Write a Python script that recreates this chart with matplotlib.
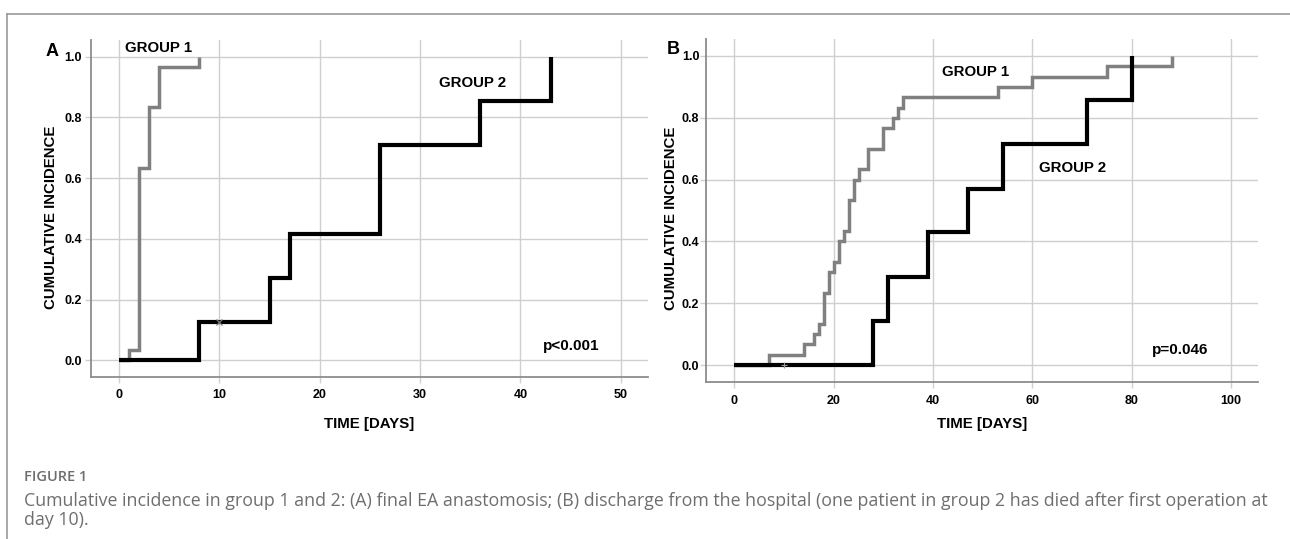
import matplotlib
matplotlib.use("Agg")
import matplotlib.pyplot as plt
from matplotlib.lines import Line2D

plt.rcParams['font.family'] = ['Liberation Sans', 'DejaVu Sans']

# Panel A: final EA anastomosis
a_g1_days = [0, 1, 2, 3, 4, 8]
a_g1_inc = [0.0, 0.033, 0.633, 0.833, 0.967, 1.0]
a_g2_days = [0, 8, 15, 17, 26, 36, 43]
a_g2_inc = [0.0, 0.125, 0.271, 0.417, 0.708, 0.854, 1.0]
a_censor_day, a_censor_inc = 10, 0.125

# Panel B: discharge from the hospital
b_g1_days = [0, 7, 14, 16, 17, 18, 19, 20, 21, 22, 23, 24, 25, 27, 30, 32, 33, 34, 53, 60, 75, 88]
b_g1_inc = [0.0, 0.033, 0.067, 0.100, 0.133, 0.233, 0.300, 0.333, 0.400, 0.433, 0.533,
            0.600, 0.633, 0.700, 0.767, 0.800, 0.833, 0.867, 0.900, 0.933, 0.967, 1.0]
b_g2_days = [0, 28, 31, 39, 47, 54, 71, 80]
b_g2_inc = [0.0, 0.143, 0.286, 0.429, 0.571, 0.714, 0.857, 1.0]
b_censor_day, b_censor_inc = 10, 0.0

yticks = [0.0, 0.2, 0.4, 0.6, 0.8, 1.0]
a_xticks = [0, 10, 20, 30, 40, 50]
b_xticks = [0, 20, 40, 60, 80, 100]

GREY = "#808080"
GRID = "#cfcfcf"
SPINE = "#8c8c8c"

fig = plt.figure(figsize=(12.9, 5.39), dpi=100)
W, H = 1290, 539


def px_axes(x0, x1, ytop, ybot):
    return fig.add_axes([x0 / W, 1 - ybot / H, (x1 - x0) / W, (ybot - ytop) / H])


def style(ax, xlim, xticks, ypad):
    ax.set_xlim(*xlim)
    ax.set_ylim(-0.055, 1.055)
    ax.set_xticks(xticks)
    ax.set_yticks(yticks)
    ax.set_yticklabels([f"{v:.1f}" for v in yticks])
    ax.grid(True, color=GRID, lw=1.0)
    ax.set_axisbelow(True)
    for s in ["top", "right"]:
        ax.spines[s].set_visible(False)
    for s in ["left", "bottom"]:
        ax.spines[s].set_color(SPINE)
        ax.spines[s].set_linewidth(1.3)
    ax.tick_params(axis="both", direction="out", length=4, width=1.0, color=GRID,
                   labelsize=9, labelcolor="black")
    ax.tick_params(axis="x", pad=5)
    ax.tick_params(axis="y", pad=ypad)
    for lab in ax.get_xticklabels() + ax.get_yticklabels():
        lab.set_fontweight("bold")
    ax.set_xlabel("TIME [DAYS]", fontsize=10.8, fontweight="bold")
    ax.set_ylabel("CUMULATIVE INCIDENCE", fontsize=10.8, fontweight="bold")


def km(ax, days, inc, color, lw):
    ax.step(days, inc, where="post", color=color, lw=lw,
            solid_joinstyle="miter", solid_capstyle="butt", zorder=3)


# ---- panel A
axA = px_axes(91, 648, 40, 377)
style(axA, (-2.78, 52.7), a_xticks, 2.5)
km(axA, a_g1_days, a_g1_inc, GREY, 2.5)
km(axA, a_g2_days, a_g2_inc, "black", 3.0)
axA.plot(a_censor_day, a_censor_inc, marker="x", ms=5, mew=0.9, color="#777777", zorder=4)
axA.text(3.9, 1.029, "GROUP 1", ha="center", va="center", fontsize=10.8, fontweight="bold")
axA.text(35.2, 0.913, "GROUP 2", ha="center", va="center", fontsize=10.8, fontweight="bold")
axA.text(45.0, 0.047, "p<0.001", ha="center", va="center", fontsize=11, fontweight="bold")
axA.xaxis.set_label_coords(0.499, -0.119)
axA.yaxis.set_label_coords(-0.060, 0.475)

# ---- panel B
axB = px_axes(706, 1258, 39, 382)
style(axB, (-5.7, 105.4), b_xticks, 0.8)
km(axB, b_g1_days, b_g1_inc, GREY, 2.5)
km(axB, b_g2_days, b_g2_inc, "black", 3.0)
axB.plot(b_censor_day, b_censor_inc, marker="+", ms=4, mew=0.8, color="#9a9a9a", zorder=4)
axB.text(48.5, 0.948, "GROUP 1", ha="center", va="center", fontsize=10.8, fontweight="bold")
axB.text(68.0, 0.638, "GROUP 2", ha="center", va="center", fontsize=10.8, fontweight="bold")
axB.text(89.8, 0.049, "p=0.046", ha="center", va="center", fontsize=11, fontweight="bold")
axB.xaxis.set_label_coords(0.5, -0.102)
axB.yaxis.set_label_coords(-0.050, 0.478)

# panel letters
fig.text(52 / W, 1 - 51 / H, "A", ha="center", va="center", fontsize=13, fontweight="bold")
fig.text(673.5 / W, 1 - 50 / H, "B", ha="center", va="center", fontsize=13, fontweight="bold")

# frame lines
fig.add_artist(Line2D([7 / W, 7 / W], [0, 1 - 14 / H], transform=fig.transFigure,
                      color="#9a9a9a", lw=1.2))
fig.add_artist(Line2D([7 / W, 1], [1 - 14 / H, 1 - 14 / H], transform=fig.transFigure,
                      color="#9a9a9a", lw=1.2))

# caption
cap_font = ["Open Sans", "DejaVu Sans"]
fig.text(24 / W, 1 - 481 / H, "FIGURE 1", ha="left", va="baseline", fontsize=10.5,
         fontweight="semibold", color="#6e6e6e", family=cap_font)
fig.text(24 / W, 1 - 506.5 / H,
         "Cumulative incidence in group 1 and 2: (A) final EA anastomosis; (B) discharge from the "
         "hospital (one patient in group 2 has died after first operation at",
         ha="left", va="baseline", fontsize=12.8, color="#6e6e6e", family=cap_font)
fig.text(24 / W, 1 - 525 / H, "day 10).", ha="left", va="baseline", fontsize=12.8,
         color="#6e6e6e", family=cap_font)

fig.savefig("out.png", dpi=100)
